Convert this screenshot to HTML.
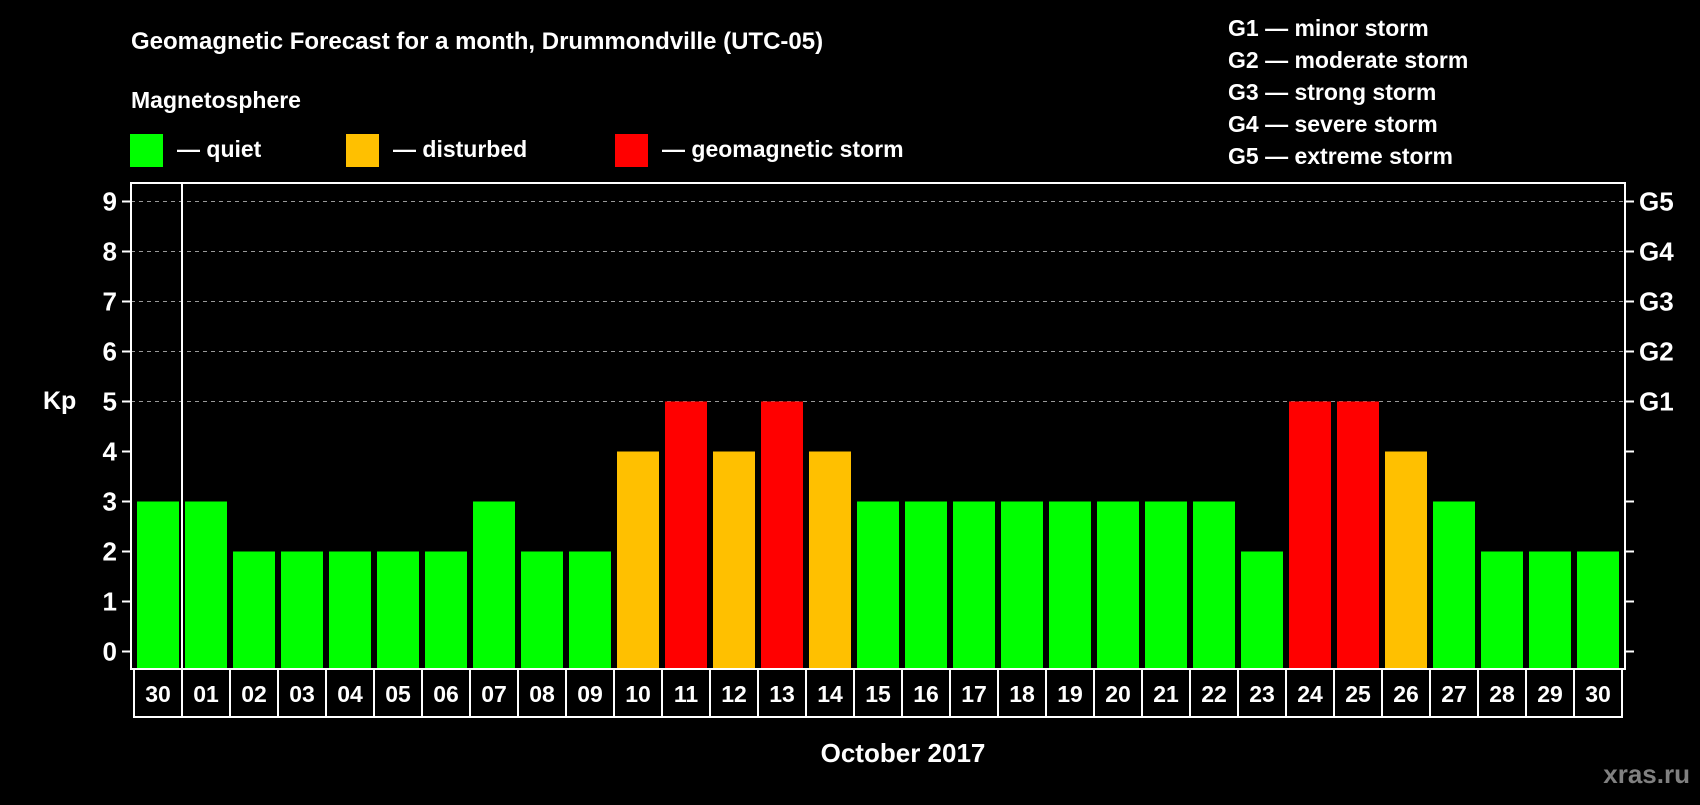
<!DOCTYPE html>
<html><head><meta charset="utf-8"><style>
body{margin:0;background:#000;width:1700px;height:800px;overflow:hidden;font-family:"Liberation Sans",sans-serif;}
svg text{font-family:"Liberation Sans",sans-serif;font-weight:bold;fill:#fff;}
</style></head><body>
<svg id="c" width="1700" height="800">
<text x="131" y="49" font-size="24">Geomagnetic Forecast for a month, Drummondville (UTC-05)</text>
<text x="131" y="108" font-size="23">Magnetosphere</text>
<g>
<rect x="130" y="134" width="33" height="33" fill="#00ff00"/>
<text x="177" y="157" font-size="23">— quiet</text>
<rect x="346" y="134" width="33" height="33" fill="#ffc000"/>
<text x="393" y="157" font-size="23">— disturbed</text>
<rect x="615" y="134" width="33" height="33" fill="#ff0000"/>
<text x="662" y="157" font-size="23">— geomagnetic storm</text>
</g>
<g font-size="23">
<text x="1228" y="36">G1 — minor storm</text>
<text x="1228" y="68">G2 — moderate storm</text>
<text x="1228" y="100">G3 — strong storm</text>
<text x="1228" y="132">G4 — severe storm</text>
<text x="1228" y="164">G5 — extreme storm</text>
</g>
<text x="43" y="409" font-size="25">Kp</text>
<text x="903" y="762" font-size="26" text-anchor="middle">October 2017</text>
<text x="1690" y="783" font-size="26" text-anchor="end" style="fill:#808080">xras.ru</text>
<g id="plot"></g>
</svg>
<script>
const days=["30","01","02","03","04","05","06","07","08","09","10","11","12","13","14","15","16","17","18","19","20","21","22","23","24","25","26","27","28","29","30"];
const kp=[3,3,2,2,2,2,2,3,2,2,4,5,4,5,4,3,3,3,3,3,3,3,3,2,5,5,4,3,2,2,2];
const yTicks=[0,1,2,3,4,5,6,7,8,9];
const gLabels=["G1","G2","G3","G4","G5"];
const NS="http://www.w3.org/2000/svg";
const L=131,R=1625,T=183,B=669,pitch=48,bw=42,x0=137;
const y=v=>651.5-v*50;
const x=i=>x0+i*pitch;
const g=document.getElementById('plot');
function mk(t,a){const e=document.createElementNS(NS,t);for(const k in a)e.setAttribute(k,a[k]);g.appendChild(e);return e;}
yTicks.forEach(v=>{
 if(v>=5){const l=mk('line',{x1:L,x2:R,y1:y(v),y2:y(v),stroke:'#999','stroke-dasharray':'4,4','stroke-width':1});
 
 }
 const t1=mk('line',{x1:L-9,x2:L,y1:y(v),y2:y(v),stroke:'#fff','stroke-width':2});
 
 
 const t2=mk('line',{x1:R,x2:R+9,y1:y(v),y2:y(v),stroke:'#fff','stroke-width':2});
 
 
 const tx=mk('text',{x:L-14,y:y(v)+9,'font-size':26,'text-anchor':'end'});tx.textContent=v;
 
 
});
gLabels.forEach((s,i)=>{const tx=mk('text',{x:R+14,y:y(5+i)+9,'font-size':26});tx.textContent=s;
 
 });
kp.forEach((v,i)=>{
 const c=v>=5?'#ff0000':v>=4?'#ffc000':'#00ff00';
 const r=mk('rect',{x:x(i),y:y(v),width:bw,height:B-y(v),fill:c});
 
 
 const tx=mk('text',{x:x(i)+bw/2,y:B+33,'font-size':23,'text-anchor':'middle'});tx.textContent=days[i];
 
 
 const d=mk('line',{x1:x(i)-3,x2:x(i)-3,y1:B,y2:717,stroke:'#fff','stroke-width':2});
 
 
});
const fr=mk('rect',{x:L,y:T,width:R-L,height:B-T,fill:'none',stroke:'#fff','stroke-width':2});


const sep=mk('line',{x1:x(1)-3,x2:x(1)-3,y1:T,y2:B,stroke:'#fff','stroke-width':2});


const lb=mk('polyline',{points:`${x(0)-3},${B} ${x(0)-3},717 ${x(30)+bw+3},717 ${x(30)+bw+3},${B}`,fill:'none',stroke:'#fff','stroke-width':2});


</script>
</body></html>
